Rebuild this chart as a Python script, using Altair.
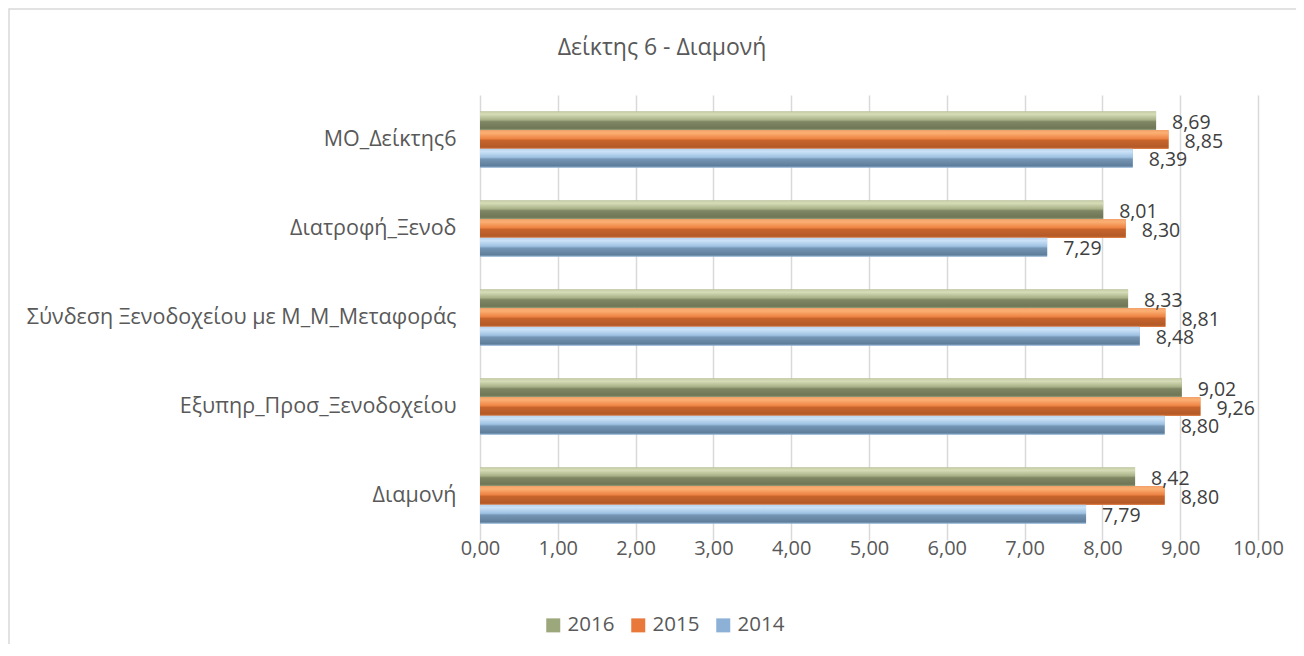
import altair as alt
import pandas as pd

categories = [
    "ΜΟ_Δείκτης6",
    "Διατροφή_Ξενοδ",
    "Σύνδεση Ξενοδοχείου με Μ_Μ_Μεταφοράς",
    "Εξυπηρ_Προσ_Ξενοδοχείου",
    "Διαμονή",
]
years = ["2016", "2015", "2014"]
v2016 = [8.69, 8.01, 8.33, 9.02, 8.42]
v2015 = [8.85, 8.30, 8.81, 9.26, 8.80]
v2014 = [8.39, 7.29, 8.48, 8.80, 7.79]
ticks = [0, 1, 2, 3, 4, 5, 6, 7, 8, 9, 10]
title_text = "Δείκτης 6 - Διαμονή"

series = {"2016": v2016, "2015": v2015, "2014": v2014}
rows = []
for y in years:
    for c, v in zip(categories, series[y]):
        rows.append({"cat": c, "year": y, "value": v})
df = pd.DataFrame(rows)

FONT = "Open Sans"
GREY = "#595959"
flat = ["#9DA77C", "#E8793A", "#8DB1D6"]

grads = {
    "2016": [("0", "#C5CDA5"), ("0.15", "#D5DCB7"), ("0.45", "#A7B086"), ("0.55", "#7E8664"), ("0.9", "#6E7656"), ("1", "#9AA37B")],
    "2015": [("0", "#F4A46A"), ("0.15", "#FBAF73"), ("0.45", "#EE8444"), ("0.55", "#C7642C"), ("0.9", "#B35A28"), ("1", "#D77436")],
    "2014": [("0", "#B9D4EE"), ("0.15", "#CBE2F7"), ("0.45", "#9EC1E2"), ("0.55", "#7595B4"), ("0.9", "#5F7E9C"), ("1", "#8AAACA")],
}

y_enc = alt.Y(
    "cat:N",
    sort=categories,
    scale=alt.Scale(paddingInner=0.37, paddingOuter=0.185),
    axis=alt.Axis(
        title=None, ticks=False, domain=False, labelPadding=24,
        labelFontSize=21.5, labelColor=GREY, labelFont=FONT, labelLimit=0,
    ),
)
x_enc = alt.X(
    "value:Q",
    scale=alt.Scale(domain=[0, 10], nice=False, zero=True),
    axis=alt.Axis(
        title=None, values=ticks, ticks=False, domain=False,
        grid=True, gridColor="#D9D9D9", gridWidth=1.5,
        labelExpr="replace(format(datum.value, '.2f'), '.', ',')",
        labelFontSize=20, labelColor=GREY, labelFont=FONT, labelPadding=-2,
        labelFlush=False, labelOverlap=False,
    ),
)
yoff = alt.YOffset("year:N", sort=years, scale=alt.Scale(paddingInner=0, paddingOuter=0))

base = alt.Chart(df)

bars = base.mark_bar().encode(
    x=x_enc,
    y=y_enc,
    yOffset=yoff,
    color=alt.Color(
        "year:N",
        scale=alt.Scale(domain=years, range=flat),
        legend=alt.Legend(
            title=None, orient="none", legendX=63, legendY=520, direction="horizontal",
            symbolType="square", symbolSize=196, symbolStrokeWidth=0,
            labelFontSize=20.5, labelColor=GREY, labelFont=FONT, labelOffset=4,
            columnPadding=13,
        ),
    ),
)

grad_layers = []
for y in years:
    stops = [alt.GradientStop(offset=float(o), color=c) for o, c in grads[y]]
    g = base.transform_filter(alt.datum.year == y).mark_bar(
        color=alt.Gradient(gradient="linear", stops=stops, x1=0, x2=0, y1=0, y2=1)
    ).encode(x=x_enc, y=y_enc, yOffset=yoff)
    grad_layers.append(g)

labels = base.transform_calculate(
    lab="replace(format(datum.value, '.2f'), '.', ',')"
).mark_text(
    align="left", baseline="middle", dx=16, dy=2, fontSize=19.5, font=FONT, color="#404040"
).encode(x=x_enc, y=y_enc, yOffset=yoff, text="lab:N")

one = pd.DataFrame({"t": [title_text]})
title = alt.Chart(one).mark_text(
    align="center", baseline="middle", fontSize=23, font=FONT, color=GREY
).encode(x=alt.value(182), y=alt.value(-47), text="t:N")

border = alt.Chart(one).mark_rect(
    fill="white", fillOpacity=0, stroke="#D9D9D9", strokeWidth=1.5
).encode(x=alt.value(-471), x2=alt.value(1200), y=alt.value(-86), y2=alt.value(800))

chart = alt.layer(border, bars, *grad_layers, labels, title).properties(
    width=778,
    height=445,
    autosize=alt.AutoSizeParams(type="none"),
    padding={"left": 472, "top": 87, "right": 38, "bottom": 104},
).configure_view(stroke=None)

chart.save("out.html", embed_options={"renderer": "svg", "actions": False})
